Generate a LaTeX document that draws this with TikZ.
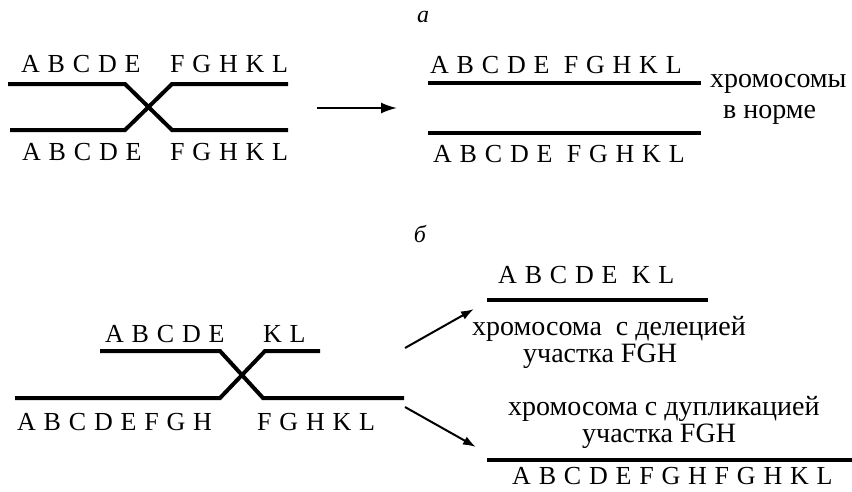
\documentclass[tikz,border=0pt]{standalone}
\usepackage{fontspec}
\setmainfont{Liberation Serif}
\newfontfamily\latlbl[LetterSpace=30]{Liberation Serif}
\usetikzlibrary{arrows.meta}
\tikzset{
  chrom/.style={line width=4pt, line join=miter},
  lbl/.style={font=\latlbl\fontsize{26}{26}\selectfont, anchor=base west, inner sep=0pt},
  cyr/.style={font=\fontsize{28}{28}\selectfont, anchor=base west, inner sep=0pt},
  part/.style={font=\itshape\fontsize{24}{24}\selectfont, anchor=base, inner sep=0pt},
  bigarr/.style={line width=2pt, -{Latex[length=16pt,width=11pt]}},
  smarr/.style={line width=2pt, -{Latex[length=13pt,width=9pt]}}
}
\begin{document}
\begin{tikzpicture}[x=1pt,y=-1pt]
\useasboundingbox (0,0) rectangle (852,491);
% ---------- part a ----------
\node[part] (pa) at (423,22) {а};
\coordinate (a1) at (8,84);   \coordinate (a2) at (125,84);
\coordinate (a3) at (172,130); \coordinate (a4) at (288,130);
\coordinate (b1) at (10,130); \coordinate (b2) at (125,130);
\coordinate (b3) at (172,84); \coordinate (b4) at (288,84);
\draw[chrom] (a1) -- (a2) -- (a3) -- (a4);
\draw[chrom] (b1) -- (b2) -- (b3) -- (b4);
\node[lbl] (ta1) at (21,72) {ABCDE};
\node[lbl] (ta2) at (170,72) {FGHKL};
\node[lbl] (ba1) at (22,160) {ABCDE};
\node[lbl] (ba2) at (170,160) {FGHKL};
\coordinate (arS) at (317,108); \coordinate (arE) at (397,108);
\draw[bigarr] (arS) -- (arE);
\coordinate (r1) at (428,83); \coordinate (r2) at (701,83);
\coordinate (s1) at (428,133); \coordinate (s2) at (701,133);
\draw[chrom] (r1) -- (r2);
\draw[chrom] (s1) -- (s2);
\node[lbl] (tr) at (430,73) {ABCDE FGHKL};
\node[lbl] (br) at (433,162) {ABCDE FGHKL};
\node[cyr] (n1) at (710,87) {хромосомы};
\node[cyr] (n2) at (723,118) {в норме};
% ---------- part b ----------
\node[part] (pb) at (420,242) {б};
\coordinate (c1) at (100,351); \coordinate (c2) at (220,351);
\coordinate (c3) at (263,398); \coordinate (c4) at (404,398);
\coordinate (d1) at (15,398);  \coordinate (d2) at (220,398);
\coordinate (d3) at (265,351); \coordinate (d4) at (320,351);
\draw[chrom] (c1) -- (c2) -- (c3) -- (c4);
\draw[chrom] (d1) -- (d2) -- (d3) -- (d4);
\node[lbl] (tb1) at (105,342) {ABCDE};
\node[lbl] (tb2) at (263,342) {KL};
\node[lbl] (bb1) at (17,430) {ABCDEFGH};
\node[lbl] (bb2) at (257,430) {FGHKL};
\coordinate (u0) at (405,348); \coordinate (u1) at (474,309);
\coordinate (v0) at (405,407); \coordinate (v1) at (476,447);
\draw[smarr] (u0) -- (u1);
\draw[smarr] (v0) -- (v1);
\coordinate (e1) at (487,300); \coordinate (e2) at (708,300);
\draw[chrom] (e1) -- (e2);
\node[lbl] (del) at (498,283) {ABCDE KL};
\node[cyr] (t1) at (472,335) {хромосома\ \ с делецией};
\node[cyr] (t2) at (523,362) {участка FGH};
\node[cyr] (t3) at (508,415) {хромосома с дупликацией};
\node[cyr] (t4) at (582,442) {участка FGH};
\coordinate (f1) at (487,460); \coordinate (f2) at (852,460);
\draw[chrom] (f1) -- (f2);
\node[lbl] (dup) at (512,484) {ABCDEFGHFGHKL};
\end{tikzpicture}
\end{document}
